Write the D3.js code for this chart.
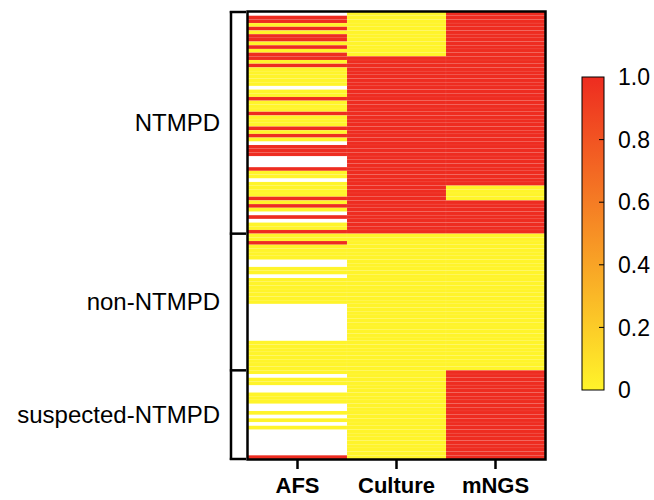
<!DOCTYPE html>
<html>
<head>
<meta charset="utf-8">
<script src="https://cdn.jsdelivr.net/npm/d3@7"></script>
<style>
  body { margin: 0; background: #fff; }
  svg { display: block; font-family: "Liberation Sans", Arial, sans-serif; }
</style>
</head>
<body>
<div class="chart"></div>
<script>
// columns of the heatmap
var methods = ["AFS", "Culture", "mNGS"];

// patient groups, top to bottom, and number of rows in each
var groups = ["NTMPD", "non-NTMPD", "suspected-NTMPD"];
var groupSizes = [60, 37, 24];

// 1 = positive, 0 = negative, null = not done (white)
var afs = [
    null, 1, 1, 0, 1, 0, 1, 1, 0, 1,
    0, 1, 1, 0, 1, 0, 0, 0, 0, 0,
    null, 0, 0, 1, 0, 0, 0, 1, 0, 0,
    0, 1, 0, 1, 0, null, 1, 1, 1, null,
    null, null, 1, 0, 0, null, 0, 0, 0, 0,
    1, 0, 1, 0, null, 1, null, 0, 0, 1,
    // non-NTMPD
    0, 0, 1, 0, 0, 0, 0, null, null, 0,
    0, null, 0, 0, 0, 0, 0, 0, 0, null,
    null, null, null, null, null, null, null, null, null, 0,
    0, 0, 0, 0, 0, 0, 0,
    // suspected-NTMPD
    0, null, 0, 0, null, null, 0, 0, 0, null,
    null, 0, null, 0, null, 0, null, null, null, null,
    null, null, null, 1
];
var culture = [
    0, 0, 0, 0, 0, 0, 0, 0, 0, 0,
    0, 0, 1, 1, 1, 1, 1, 1, 1, 1,
    1, 1, 1, 1, 1, 1, 1, 1, 1, 1,
    1, 1, 1, 1, 1, 1, 1, 1, 1, 1,
    1, 1, 1, 1, 1, 1, 1, 1, 1, 1,
    1, 1, 1, 1, 1, 1, 1, 1, 1, 1,
    0, 0, 0, 0, 0, 0, 0, 0, 0, 0,
    0, 0, 0, 0, 0, 0, 0, 0, 0, 0,
    0, 0, 0, 0, 0, 0, 0, 0, 0, 0,
    0, 0, 0, 0, 0, 0, 0,
    0, 0, 0, 0, 0, 0, 0, 0, 0, 0,
    0, 0, 0, 0, 0, 0, 0, 0, 0, 0,
    0, 0, 0, 0
];
var mngs = [
    1, 1, 1, 1, 1, 1, 1, 1, 1, 1,
    1, 1, 1, 1, 1, 1, 1, 1, 1, 1,
    1, 1, 1, 1, 1, 1, 1, 1, 1, 1,
    1, 1, 1, 1, 1, 1, 1, 1, 1, 1,
    1, 1, 1, 1, 1, 1, 1, 0, 0, 0,
    0, 1, 1, 1, 1, 1, 1, 1, 1, 1,
    0, 0, 0, 0, 0, 0, 0, 0, 0, 0,
    0, 0, 0, 0, 0, 0, 0, 0, 0, 0,
    0, 0, 0, 0, 0, 0, 0, 0, 0, 0,
    0, 0, 0, 0, 0, 0, 0,
    1, 1, 1, 1, 1, 1, 1, 1, 1, 1,
    1, 1, 1, 1, 1, 1, 1, 1, 1, 1,
    1, 1, 1, 1
];

var colorTicks = [0, 0.2, 0.4, 0.6, 0.8, 1.0];

var svgWidth = 654;
var svgHeight = 500;
var margin = { top: 12, left: 248, right: 109, bottom: 41 };
var width = svgWidth - margin.left - margin.right;
var height = svgHeight - margin.top - margin.bottom;

var svg = d3.select(".chart")
    .append("svg")
    .attr("width", svgWidth)
    .attr("height", svgHeight);

var chart = svg.append("g")
    .attr("transform", "translate(" + margin.left + "," + margin.top + ")");

var nRows = afs.length;
var cells = [];
[afs, culture, mngs].forEach(function(col, j) {
    col.forEach(function(v, i) {
        cells.push({ row: i, method: methods[j], value: v });
    });
});

var xScale = d3.scaleBand().domain(methods).range([0, width]);
var yScale = d3.scaleBand().domain(d3.range(nRows)).range([0, height]);
var color = d3.scaleLinear().domain([0, 1]).range(["#fff42a", "#ee2c20"]);

chart.selectAll("rect.cell")
    .data(cells.filter(function(d) { return d.value !== null; }))
    .enter()
    .append("rect")
    .attr("class", "cell")
    .attr("x", function(d) { return xScale(d.method); })
    .attr("y", function(d) { return yScale(d.row); })
    .attr("width", xScale.bandwidth())
    .attr("height", yScale.bandwidth())
    .attr("fill", function(d) { return color(d.value); })
    .attr("stroke", "#ffffff")
    .attr("stroke-opacity", 0.07)
    .attr("stroke-width", 0.6);

// frame round the heatmap
chart.append("rect")
    .attr("x", -0.5)
    .attr("y", -0.5)
    .attr("width", width + 1)
    .attr("height", height + 1)
    .attr("fill", "none")
    .attr("stroke", "#000")
    .attr("stroke-width", 2.5);

// x axis ticks and labels
var xAxis = chart.append("g").attr("transform", "translate(0," + height + ")");
xAxis.selectAll("line")
    .data(methods)
    .enter()
    .append("line")
    .attr("x1", function(d) { return xScale(d) + xScale.bandwidth() / 2; })
    .attr("x2", function(d) { return xScale(d) + xScale.bandwidth() / 2; })
    .attr("y1", 0)
    .attr("y2", 10)
    .attr("stroke", "#000")
    .attr("stroke-width", 2.5);
xAxis.selectAll("text")
    .data(methods)
    .enter()
    .append("text")
    .attr("x", function(d) { return xScale(d) + xScale.bandwidth() / 2; })
    .attr("y", 34)
    .attr("text-anchor", "middle")
    .style("font-size", "22px")
    .style("font-weight", "bold")
    .text(function(d) { return d; });

// group brackets on the left
var bounds = [0];
groupSizes.forEach(function(n, i) { bounds.push(bounds[i] + n); });
var bracketX = -17;
var br = chart.append("g");
br.append("line")
    .attr("x1", bracketX).attr("x2", bracketX)
    .attr("y1", -1).attr("y2", height + 1)
    .attr("stroke", "#000").attr("stroke-width", 2.5);
br.selectAll("line.tick")
    .data(bounds)
    .enter()
    .append("line")
    .attr("class", "tick")
    .attr("x1", bracketX - 1.2).attr("x2", -2)
    .attr("y1", function(d) { return d === nRows ? height : yScale(d); })
    .attr("y2", function(d) { return d === nRows ? height : yScale(d); })
    .attr("stroke", "#000").attr("stroke-width", 2.5);

br.selectAll("text")
    .data(groups)
    .enter()
    .append("text")
    .attr("x", -28)
    .attr("y", function(d, i) {
        var y0 = yScale(bounds[i]);
        var y1 = bounds[i + 1] === nRows ? height : yScale(bounds[i + 1]);
        return (y0 + y1) / 2;
    })
    .attr("dy", "0.35em")
    .attr("text-anchor", "end")
    .style("font-size", "24px")
    .text(function(d) { return d; });

// colour bar
var barX = 582, barW = 22, barTop = 77, barH = 313;
var grad = svg.append("defs").append("linearGradient")
    .attr("id", "grad")
    .attr("x1", 0).attr("y1", 1).attr("x2", 0).attr("y2", 0);
grad.selectAll("stop")
    .data([0, 1])
    .enter()
    .append("stop")
    .attr("offset", function(d) { return d * 100 + "%"; })
    .attr("stop-color", function(d) { return color(d); });

var barScale = d3.scaleLinear().domain([0, 1]).range([barTop + barH, barTop]);
svg.append("rect")
    .attr("x", barX).attr("y", barTop)
    .attr("width", barW).attr("height", barH)
    .attr("fill", "url(#grad)")
    .attr("stroke", "#000")
    .attr("stroke-width", 1);

var barAxis = svg.append("g");
barAxis.selectAll("line")
    .data(colorTicks.filter(function(d) { return d > 0 && d < 1; }))
    .enter()
    .append("line")
    .attr("x1", barX + barW - 5).attr("x2", barX + barW)
    .attr("y1", function(d) { return barScale(d); })
    .attr("y2", function(d) { return barScale(d); })
    .attr("stroke", "#000").attr("stroke-width", 1);
barAxis.selectAll("text")
    .data(colorTicks)
    .enter()
    .append("text")
    .attr("x", barX + barW + 14)
    .attr("y", function(d) { return barScale(d); })
    .attr("dy", "0.36em")
    .style("font-size", "23px")
    .text(function(d) { return d === 0 ? "0" : d3.format(".1f")(d); });
</script>
</body>
</html>
